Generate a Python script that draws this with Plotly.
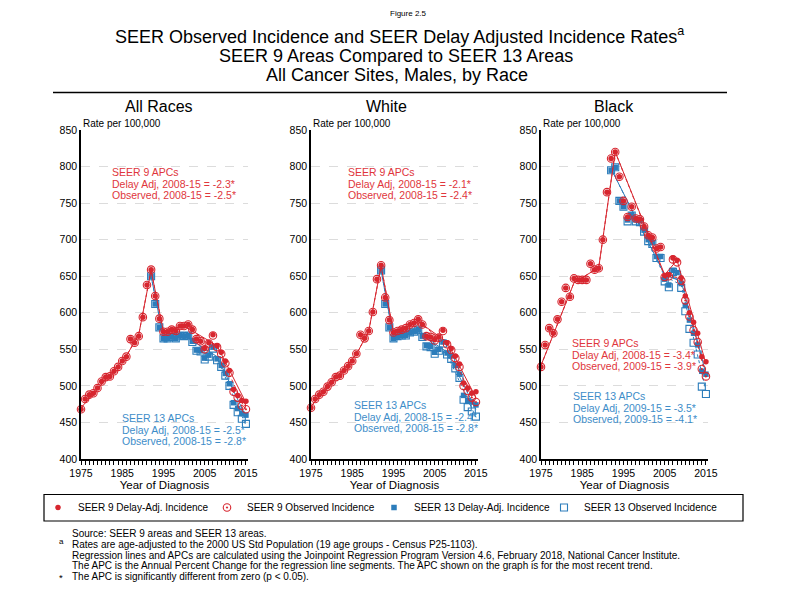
import plotly.graph_objects as go

W, H = 792, 612

# ---------------- data ----------------
years9 = list(range(1975, 2016))
years13 = list(range(1992, 2016))
tick_years = list(range(1975, 2016))
tick_labels = ["1975", "1985", "1995", "2005", "2015"]
y_ticks = [400, 450, 500, 550, 600, 650, 700, 750, 800, 850]

panels = ["All Races", "White", "Black"]

# All Races
ar_s9_da = [468, 482, 488, 490, 497, 506, 512, 513, 520, 526,
            534, 540, 564, 559, 568, 594, 638, 659, 623, 592,
            574, 574, 577, 575, 582, 582, 584, 577, 564, 561,
            551, 559, 570, 555, 546, 534, 521, 495, 487, 480, 479]
ar_s9_obs = [468, 482, 488, 490, 497, 506, 512, 513, 520, 526,
             534, 540, 564, 559, 568, 594, 638, 659, 623, 592,
             574, 574, 577, 575, 582, 582, 584, 577, 564, 561,
             550, 558, 569, 553, 544, 531, 518, 492, 484, 473, 468]
ar_s13_da = [650, 612, 580, 565, 565, 567, 565, 569, 568, 569,
             561, 549, 548, 538, 542, 553, 537, 528, 517, 503,
             477, 469, 462, 460]
ar_s13_obs = [650, 612, 580, 565, 565, 567, 565, 569, 568, 569,
              560, 548, 547, 536, 540, 551, 535, 526, 514, 500,
              474, 464, 455, 448]
ar_fit9_da_x = [1975, 1986, 1989, 1992, 1995, 2000, 2008, 2015]
ar_fit9_da_y = [470, 541, 570, 658, 574, 582, 555, 477]
ar_fit9_obs_x = [1975, 1986, 1989, 1992, 1995, 2000, 2008, 2015]
ar_fit9_obs_y = [470, 541, 570, 658, 574, 582, 553, 466]
ar_fit13_da_x = [1992, 1995, 2000, 2008, 2015]
ar_fit13_da_y = [650, 566, 569, 540, 458]
ar_fit13_obs_x = [1992, 1995, 2000, 2008, 2015]
ar_fit13_obs_y = [650, 566, 569, 538, 446]

# White
wh_s9_da = [470, 482, 488, 492, 499, 505, 512, 514, 521, 527,
            534, 544, 570, 565, 575, 601, 646, 665, 621, 590,
            573, 575, 577, 579, 584, 586, 591, 584, 568, 567,
            563, 567, 576, 559, 551, 541, 530, 504, 497, 490, 492]
wh_s9_obs = [470, 482, 488, 492, 499, 505, 512, 514, 521, 527,
             534, 544, 570, 565, 575, 601, 646, 665, 621, 590,
             573, 575, 577, 579, 584, 586, 591, 584, 568, 567,
             562, 566, 575, 557, 549, 538, 526, 500, 493, 484, 478]
wh_s13_da = [658, 612, 580, 565, 568, 569, 569, 573, 574, 577,
             568, 555, 554, 546, 550, 560, 545, 541, 528, 516,
             487, 480, 478, 474]
wh_s13_obs = [658, 612, 580, 565, 568, 569, 569, 573, 574, 577,
              567, 554, 553, 544, 548, 558, 543, 537, 524, 511,
              481, 471, 465, 458]
wh_fit9_da_x = [1975, 1986, 1989, 1992, 1995, 2001, 2008, 2015]
wh_fit9_da_y = [472, 543, 575, 664, 573, 588, 560, 484]
wh_fit9_obs_x = [1975, 1986, 1989, 1992, 1995, 2001, 2008, 2015]
wh_fit9_obs_y = [472, 543, 575, 664, 573, 588, 557, 473]
wh_fit13_da_x = [1992, 1995, 2001, 2008, 2015]
wh_fit13_da_y = [658, 566, 574, 546, 468]
wh_fit13_obs_x = [1992, 1995, 2001, 2008, 2015]
wh_fit13_obs_y = [658, 566, 574, 543, 457]

# Black
bl_s9_da = [526, 556, 579, 572, 591, 615, 634, 622, 647, 645,
            645, 645, 667, 659, 661, 700, 765, 811, 820, 786,
            753, 731, 745, 729, 728, 718, 706, 703, 688, 690,
            651, 652, 675, 672, 648, 623, 600, 587, 572, 540, 533]
bl_s9_obs = [526, 556, 579, 572, 591, 615, 634, 622, 647, 645,
             645, 645, 667, 659, 661, 700, 765, 811, 820, 786,
             753, 731, 745, 729, 728, 718, 706, 703, 688, 690,
             649, 650, 673, 669, 644, 617, 595, 576, 560, 523, 513]
bl_s13_da = [795, 799, 753, 745, 727, 734, 727, 726, 713, 700,
             696, 677, 677, 646, 638, 658, 655, 640, 610, 590,
             572, 556, 520, 516]
bl_s13_obs = [795, 799, 753, 745, 725, 733, 725, 724, 711, 698,
              694, 675, 675, 643, 635, 656, 652, 634, 602, 578,
              559, 543, 499, 489]
bl_fit9_da_x = [1975, 1983, 1989, 1993, 2005, 2008, 2015]
bl_fit9_da_y = [528, 641, 662, 820, 652, 672, 530]
bl_fit9_obs_x = [1975, 1983, 1989, 1993, 2005, 2009, 2015]
bl_fit9_obs_y = [528, 641, 662, 820, 650, 648, 512]
bl_fit13_da_x = [1992, 2005, 2009, 2015]
bl_fit13_da_y = [797, 652, 643, 517]
bl_fit13_obs_x = [1992, 2005, 2009, 2015]
bl_fit13_obs_y = [797, 650, 638, 493]

apc9_text = [
    ["SEER 9 APCs", "Delay Adj, 2008-15 = -2.3*", "Observed, 2008-15 = -2.5*"],
    ["SEER 9 APCs", "Delay Adj, 2008-15 = -2.1*", "Observed, 2008-15 = -2.4*"],
    ["SEER 9 APCs", "Delay Adj, 2008-15 = -3.4*", "Observed, 2009-15 = -3.9*"],
]
apc13_text = [
    ["SEER 13 APCs", "Delay Adj, 2008-15 = -2.5*", "Observed, 2008-15 = -2.8*"],
    ["SEER 13 APCs", "Delay Adj, 2008-15 = -2.4*", "Observed, 2008-15 = -2.8*"],
    ["SEER 13 APCs", "Delay Adj, 2009-15 = -3.5*", "Observed, 2009-15 = -4.1*"],
]

series = [
    dict(s9_da=ar_s9_da, s9_obs=ar_s9_obs, s13_da=ar_s13_da, s13_obs=ar_s13_obs,
         f9da=(ar_fit9_da_x, ar_fit9_da_y), f9obs=(ar_fit9_obs_x, ar_fit9_obs_y),
         f13da=(ar_fit13_da_x, ar_fit13_da_y), f13obs=(ar_fit13_obs_x, ar_fit13_obs_y)),
    dict(s9_da=wh_s9_da, s9_obs=wh_s9_obs, s13_da=wh_s13_da, s13_obs=wh_s13_obs,
         f9da=(wh_fit9_da_x, wh_fit9_da_y), f9obs=(wh_fit9_obs_x, wh_fit9_obs_y),
         f13da=(wh_fit13_da_x, wh_fit13_da_y), f13obs=(wh_fit13_obs_x, wh_fit13_obs_y)),
    dict(s9_da=bl_s9_da, s9_obs=bl_s9_obs, s13_da=bl_s13_da, s13_obs=bl_s13_obs,
         f9da=(bl_fit9_da_x, bl_fit9_da_y), f9obs=(bl_fit9_obs_x, bl_fit9_obs_y),
         f13da=(bl_fit13_da_x, bl_fit13_da_y), f13obs=(bl_fit13_obs_x, bl_fit13_obs_y)),
]

# ---------------- styling ----------------
RED = "#d7262f"
BLUE = "#2c7dbb"
RED_TXT = "#e0363c"
BLUE_TXT = "#3d8dc9"
FONT = "Liberation Sans, Arial, sans-serif"
PAGE_OFF = 8  # default body margin of the html page

def px(x):
    return (x - PAGE_OFF) / W

def py(y):
    return 1 - (y - PAGE_OFF) / H

panel_left = [81, 311, 541]
panel_w = 167
y_top, y_bot = 130, 459

fig = go.Figure()

for i, s in enumerate(series):
    xa = "x" if i == 0 else f"x{i+1}"
    ya = "y" if i == 0 else f"y{i+1}"
    first = i == 0
    # blue fits + markers
    fig.add_trace(go.Scatter(x=s["f13obs"][0], y=s["f13obs"][1], mode="lines",
                             line=dict(color=BLUE, width=1, dash="dot"),
                             showlegend=False, xaxis=xa, yaxis=ya, hoverinfo="skip"))
    fig.add_trace(go.Scatter(x=s["f13da"][0], y=s["f13da"][1], mode="lines",
                             line=dict(color=BLUE, width=1),
                             showlegend=False, xaxis=xa, yaxis=ya, hoverinfo="skip"))
    fig.add_trace(go.Scatter(x=years13, y=s["s13_obs"], mode="markers",
                             name="SEER 13 Observed Incidence", legend="legend4",
                             showlegend=first, cliponaxis=False,
                             marker=dict(symbol="square-open", size=7, color=BLUE,
                                         line=dict(width=1.1)),
                             xaxis=xa, yaxis=ya))
    fig.add_trace(go.Scatter(x=years13, y=s["s13_da"], mode="markers",
                             name="SEER 13 Delay-Adj. Incidence", legend="legend3",
                             showlegend=first, cliponaxis=False,
                             marker=dict(symbol="square", size=5.5, color=BLUE),
                             xaxis=xa, yaxis=ya))
    # red fits + markers
    fig.add_trace(go.Scatter(x=s["f9obs"][0], y=s["f9obs"][1], mode="lines",
                             line=dict(color=RED, width=1, dash="dot"),
                             showlegend=False, xaxis=xa, yaxis=ya, hoverinfo="skip"))
    fig.add_trace(go.Scatter(x=s["f9da"][0], y=s["f9da"][1], mode="lines",
                             line=dict(color=RED, width=1),
                             showlegend=False, xaxis=xa, yaxis=ya, hoverinfo="skip"))
    fig.add_trace(go.Scatter(x=years9, y=s["s9_obs"], mode="markers",
                             name="SEER 9 Observed Incidence", legend="legend2",
                             showlegend=first, cliponaxis=False,
                             marker=dict(symbol="circle-open-dot", size=7.5, color=RED,
                                         line=dict(width=1.1)),
                             xaxis=xa, yaxis=ya))
    fig.add_trace(go.Scatter(x=years9, y=s["s9_da"], mode="markers",
                             name="SEER 9 Delay-Adj. Incidence", legend="legend",
                             showlegend=first, cliponaxis=False,
                             marker=dict(symbol="circle", size=5.5, color=RED),
                             xaxis=xa, yaxis=ya))

layout_axes = {}
for i in range(3):
    xk = "xaxis" if i == 0 else f"xaxis{i+1}"
    yk = "yaxis" if i == 0 else f"yaxis{i+1}"
    xa_anchor = "y" if i == 0 else f"y{i+1}"
    ya_anchor = "x" if i == 0 else f"x{i+1}"
    left = panel_left[i]
    layout_axes[xk] = dict(
        domain=[px(left), px(left + panel_w)], anchor=xa_anchor,
        range=[1975, 2015.5], showgrid=False, zeroline=False,
        showline=True, linecolor="black", linewidth=1.5,
        ticks="outside", ticklen=4, tickwidth=1, tickcolor="black",
        tickvals=tick_years, tickangle=0,
        ticktext=[str(y) if str(y) in tick_labels else "" for y in tick_years],
        tickfont=dict(family=FONT, size=10.5, color="black"),
        title=dict(text="Year of Diagnosis", font=dict(family=FONT, size=11.5, color="black"),
                   standoff=2),
    )
    layout_axes[yk] = dict(
        domain=[py(y_bot), py(y_top)], anchor=ya_anchor,
        range=[400, 850], tickvals=y_ticks, zeroline=False,
        showline=True, linecolor="black", linewidth=1.5, ticks="",
        showgrid=True, gridcolor="#dcdcdc", griddash="dash", gridwidth=1,
        tickfont=dict(family=FONT, size=10.5, color="black"),
    )

# one legend box per entry, placed like the reference's legend row
legend_text_x = [79, 248, 415, 585]
legends = {}
for k, tx in enumerate(legend_text_x):
    key = "legend" if k == 0 else f"legend{k+1}"
    legends[key] = dict(orientation="h", x=px(tx - 41), y=py(507.5),
                        xanchor="left", yanchor="middle",
                        bgcolor="rgba(0,0,0,0)", borderwidth=0,
                        font=dict(family=FONT, size=10, color="black"),
                        itemwidth=30)

annotations = []

def ann(text, x, y, size, color="black", xanchor="left", family=FONT, yanchor="middle"):
    annotations.append(dict(text=text, x=px(x), y=py(y), xref="paper", yref="paper",
                            showarrow=False, xanchor=xanchor, yanchor=yanchor,
                            font=dict(family=family, size=size, color=color)))

# Titles
ann("Figure 2.5", 409, 14, 8, xanchor="center")
ann("SEER Observed Incidence and SEER Delay Adjusted Incidence Rates<sup>a</sup>", 399, 36, 18, xanchor="center")
ann("SEER 9 Areas Compared to SEER 13 Areas", 396, 56, 18, xanchor="center")
ann("All Cancer Sites, Males, by Race", 397, 75, 18, xanchor="center")

# Panel titles & axis captions
title_x = [159, 386, 614]
for i, name in enumerate(panels):
    ann(name, title_x[i], 107, 16, xanchor="center")
    ann("Rate per 100,000", panel_left[i], 123, 10)

# APC annotations
apc9_pos = [(110, 172), (346, 172), (570, 343)]
apc13_pos = [(120, 418), (352, 405), (571, 396)]
for i in range(3):
    x0, y0 = apc9_pos[i]
    for k, t in enumerate(apc9_text[i]):
        ann(t, x0, y0 + k * 11.7, 10.5, color=RED_TXT)
    x0, y0 = apc13_pos[i]
    for k, t in enumerate(apc13_text[i]):
        ann(t, x0, y0 + k * 11.7, 10.5, color=BLUE_TXT)

# Footnotes
foot = [
    "Source: SEER 9 areas and SEER 13 areas.",
    "Rates are age-adjusted to the 2000 US Std Population (19 age groups - Census P25-1103).",
    "Regression lines and APCs are calculated using the Joinpoint Regression Program Version 4.6, February 2018, National Cancer Institute.",
    "The APC is the Annual Percent Change for the regression line segments. The APC shown on the graph is for the most recent trend.",
    "The APC is significantly different from zero (p < 0.05).",
]
foot_y = [533, 544, 555, 565.5, 576]
for t, y in zip(foot, foot_y):
    ann(t, 70, y, 10)
ann("a", 57, 541, 8)
ann("*", 57, 577, 9.5)

shapes = [
    dict(type="line", xref="paper", yref="paper", x0=px(53), x1=px(727),
         y0=py(92.5), y1=py(92.5), line=dict(color="black", width=1.5)),
    dict(type="rect", xref="paper", yref="paper", x0=px(44), x1=px(743),
         y0=py(521), y1=py(494.5), line=dict(color="black", width=1.2)),
]

fig.update_layout(
    width=W, height=H,
    margin=dict(l=0, r=0, t=0, b=0, pad=0, autoexpand=False),
    paper_bgcolor="white", plot_bgcolor="white",
    font=dict(family=FONT, color="black"),
    showlegend=True,
    annotations=annotations,
    shapes=shapes,
    **legends,
    **layout_axes,
)

fig.write_html("out.html")
